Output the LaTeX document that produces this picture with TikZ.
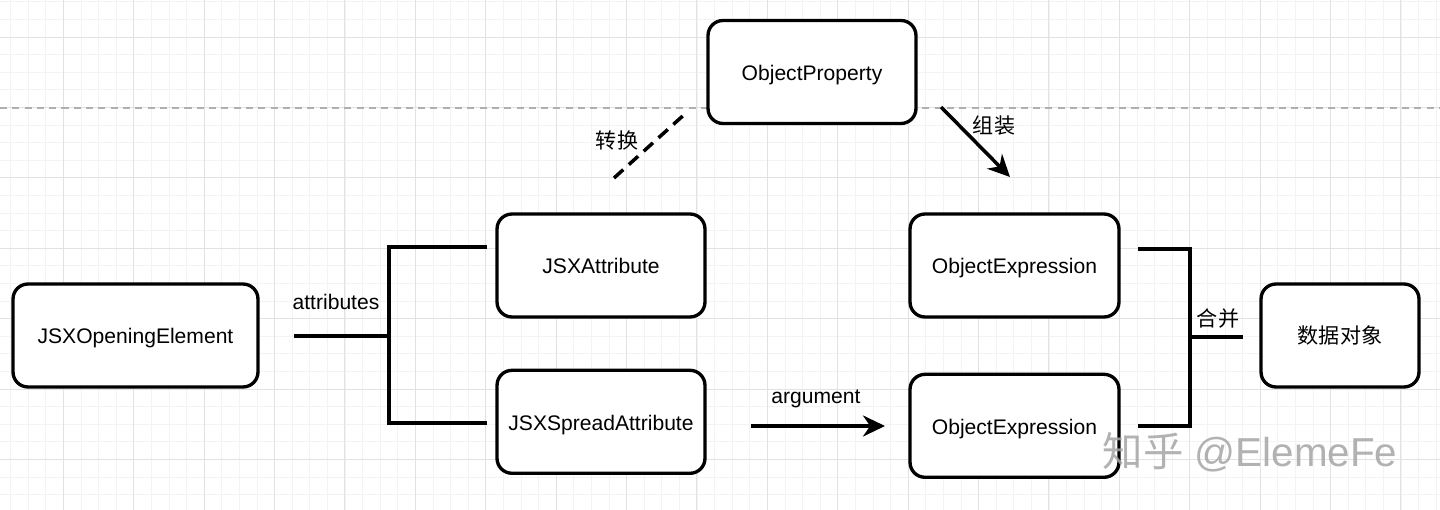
\documentclass[tikz,border=0pt]{standalone}
\usepackage{fontspec}
\setmainfont{Liberation Sans}
\newfontfamily\cjk{Noto Sans CJK SC}
\usetikzlibrary{arrows.meta, positioning, calc}
\definecolor{GridMinor}{RGB}{243,243,243}
\definecolor{GridMajor}{RGB}{226,226,226}
\definecolor{GuideGray}{RGB}{175,175,175}
\definecolor{MarkGray}{RGB}{165,165,165}
\tikzset{
  astnode/.style={draw, line width=1.9pt, rounded corners=0.3cm, fill=white,
    minimum width=4.16cm, minimum height=2.06cm, text height=1.16em, text depth=0.21em,
    font=\fontsize{12}{14}\selectfont},
  link/.style={line width=2pt},
  edgelabel/.style={font=\fontsize{12}{14}\selectfont},
  cjklabel/.style={font=\cjk\fontsize{12}{14}\selectfont}
}

\begin{document}
\begin{tikzpicture}[x=0.02cm, y=-0.02cm]
  \useasboundingbox (0,0) rectangle (1440,510);
  % grid
  \begin{scope}
    \clip (0,0) rectangle (1440,510);
    \fill[white] (0,0) rectangle (1440,510);
    \foreach \i in {0,...,82} \draw[GridMinor, line width=0.4pt] ({-7.1+17.6*\i},0) -- ++(0,510);
    \foreach \j in {0,...,29} \draw[GridMinor, line width=0.4pt] (0,{1.75+17.6*\j}) -- ++(1440,0);
    \foreach \i in {0,...,20} \draw[GridMajor, line width=0.5pt] ({-7.1+70.4*\i},0) -- ++(0,510);
    \foreach \j in {0,...,6} \draw[GridMajor, line width=0.5pt] (0,{37+70.4*\j}) -- ++(1440,0);
    \draw[GuideGray, line width=0.6pt, dash pattern=on 4pt off 3pt] (0,108) -- (1440,108);
  \end{scope}

  % nodes
  \node[astnode, minimum width=4.9cm] (open) at (135.5,335.5) {JSXOpeningElement};
  \node[astnode] (attr) at (601,265.5) {JSXAttribute};
  \node[astnode, below=1cm of attr] (spread) {JSXSpreadAttribute};
  \node[astnode] (prop) at (812,72) {ObjectProperty};
  \node[astnode, minimum width=4.18cm] (objA) at (1014.5,265.5) {ObjectExpression};
  \node[astnode, minimum width=4.18cm, below=1.08cm of objA] (objB) {ObjectExpression};
  \node[astnode, minimum width=3.16cm, cjklabel] (data) at (1340,335.5) {数据对象};

  % attributes bracket
  \coordinate (attrIn) at (294,336);
  \coordinate (attrFork) at (389,336);
  \coordinate (attrTop) at (487,247);
  \coordinate (attrBot) at (487,423);
  \draw[link] (attrIn) -- (attrFork);
  \draw[link] (attrTop) -| (attrFork) |- (attrBot);
  \node[edgelabel] (attrLabel) at (336,302) {attributes};

  % argument
  \coordinate (argFrom) at (751,426);
  \coordinate (argTo) at (885,426);
  \draw[link, -{Stealth[length=0.44cm, width=0.42cm]}] (argFrom) -- (argTo);
  \node[edgelabel] (argLabel) at (816,399) {argument};

  % convert / assemble
  \coordinate (convFrom) at (614,178);
  \coordinate (convTo) at (686,113);
  \draw[link, dash pattern=on 0.25cm off 0.15cm] (convFrom) -- (convTo);
  \node[cjklabel] (convLabel) at (617,140) {转换};
  \coordinate (packFrom) at (941,107);
  \coordinate (packTo) at (1010,177);
  \draw[link, -{Stealth[length=0.44cm, width=0.42cm]}] (packFrom) -- (packTo);
  \node[cjklabel] (packLabel) at (994,126) {组装};

  % merge bracket
  \coordinate (mergeTop) at (1138,249);
  \coordinate (mergeFork) at (1190,337);
  \coordinate (mergeBot) at (1138,426);
  \coordinate (mergeOut) at (1243,337);
  \draw[link] (mergeTop) -| (mergeFork) |- (mergeBot);
  \draw[link] (mergeFork) -- (mergeOut);
  \node[cjklabel] (mergeLabel) at (1218,319) {合并};

  % watermark
  \node[MarkGray, opacity=0.85, font=\fontsize{23}{26}\selectfont] (mark) at (1250,452) {{\cjk 知乎} @ElemeFe};
\end{tikzpicture}
\end{document}
